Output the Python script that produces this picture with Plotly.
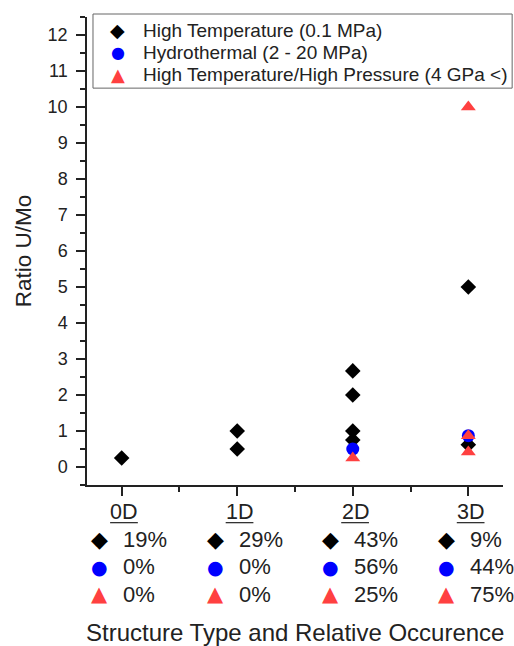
import plotly.graph_objects as go

categories = ["0D", "1D", "2D", "3D"]

ht_cat = ["0D", "1D", "1D", "2D", "2D", "2D", "2D", "3D", "3D"]
ht_val = [0.25, 1.0, 0.5, 2.67, 2.0, 1.0, 0.75, 5.0, 0.62]

hy_cat = ["2D", "3D"]
hy_val = [0.5, 0.87]

hthp_cat = ["2D", "3D", "3D", "3D"]
hthp_val = [0.25, 10.0, 0.87, 0.42]

pct_ht = ["19%", "29%", "43%", "9%"]
pct_hy = ["0%", "0%", "56%", "44%"]
pct_hthp = ["0%", "0%", "25%", "75%"]

names = ["High Temperature (0.1 MPa)", "Hydrothermal (2 - 20 MPa)",
         "High Temperature/High Pressure (4 GPa <)"]
colors = ["black", "#0000FF", "#FF4040"]
symbols = ["diamond", "circle", "triangle-up"]
glyphs = ["\u25C6", "\u25CF", "\u25B2"]
glyph_sizes = [22, 19, 21]

idx = {c: i for i, c in enumerate(categories)}
FONT = "Liberation Sans, Arial, sans-serif"
TXT = "#222"

fig = go.Figure()
for cats, vals, nm, col, sym, sz in [
    (ht_cat, ht_val, names[0], colors[0], symbols[0], 12),
    (hy_cat, hy_val, names[1], colors[1], symbols[1], 13),
    (hthp_cat, hthp_val, names[2], colors[2], symbols[2], 13),
]:
    fig.add_trace(go.Scatter(
        x=[idx[c] for c in cats], y=vals, mode="markers", name=nm,
        marker=dict(symbol=sym, color=col, size=sz, line=dict(width=0)),
        cliponaxis=False, showlegend=False,
    ))

annotations = []
shapes = []

# legend box
shapes.append(dict(type="rect", xref="paper", yref="paper",
                   x0=0.0144, x1=1.022, y0=0.848, y1=1.0064,
                   line=dict(color="#666", width=1), fillcolor="white", layer="below"))
leg_y = [0.9722, 0.9252, 0.8782]
for r in range(3):
    annotations.append(dict(x=0.0745, y=leg_y[r], xref="paper", yref="paper",
                            text=glyphs[r], showarrow=False, xanchor="center", yanchor="middle",
                            font=dict(size=glyph_sizes[r] - 3, color=colors[r], family="DejaVu Sans")))
    annotations.append(dict(x=0.129, y=leg_y[r], xref="paper", yref="paper",
                            text=names[r], showarrow=False, xanchor="left", yanchor="middle",
                            font=dict(size=19, color=TXT, family=FONT)))

# category labels with occurrence rows
row_y = [-0.1175, -0.175, -0.233]
for i, c in enumerate(categories):
    annotations.append(dict(x=i + 0.02, y=-0.0577, xref="x", yref="paper",
                            text=c, showarrow=False, xanchor="center", yanchor="middle",
                            font=dict(size=21.5, color=TXT, family=FONT)))
    shapes.append(dict(type="line", xref="x", yref="paper",
                       x0=i - 0.1, x1=i + 0.14, y0=-0.0805, y1=-0.0805,
                       line=dict(color=TXT, width=1.2)))
    for r, pcts in enumerate([pct_ht, pct_hy, pct_hthp]):
        annotations.append(dict(x=i - 0.19, y=row_y[r], xref="x", yref="paper",
                                text=glyphs[r], showarrow=False, xanchor="center", yanchor="middle",
                                font=dict(size=glyph_sizes[r], color=colors[r], family="DejaVu Sans")))
        annotations.append(dict(x=i - 0.005, y=row_y[r], xref="x", yref="paper",
                                text=pcts[i], showarrow=False, xanchor="left", yanchor="middle",
                                font=dict(size=22, color=TXT, family=FONT)))

annotations.append(dict(x=0.5, y=-0.316, xref="paper", yref="paper",
                        text="Structure Type and Relative Occurence", showarrow=False,
                        xanchor="center", yanchor="middle",
                        font=dict(size=24, color=TXT, family=FONT)))

fig.update_layout(
    width=514, height=646,
    margin=dict(l=87, r=11, t=17, b=161),
    paper_bgcolor="white", plot_bgcolor="white",
    font=dict(family=FONT, color=TXT),
    showlegend=False,
    annotations=annotations,
    shapes=shapes,
)
fig.update_xaxes(range=[-0.3, 3.3], tickvals=[0, 1, 2, 3], showticklabels=False,
                 ticks="outside", ticklen=9, tickwidth=1.5, tickcolor=TXT,
                 showline=True, linecolor=TXT, linewidth=1.5,
                 showgrid=False, zeroline=False,
                 minor=dict(tickvals=[0.5, 1.5, 2.5], ticks="outside", ticklen=5,
                            tickwidth=1.5, tickcolor=TXT))
fig.update_yaxes(range=[-0.5, 12.5], dtick=1, tick0=0,
                 ticks="outside", ticklen=9, tickwidth=1.5, tickcolor=TXT,
                 showline=True, linecolor=TXT, linewidth=1.5,
                 showgrid=False, zeroline=False, ticklabelstandoff=5,
                 tickfont=dict(size=18, family=FONT, color=TXT),
                 title=dict(text="Ratio U/Mo", font=dict(size=22.5, family=FONT, color=TXT),
                            standoff=10),
                 minor=dict(dtick=0.5, ticks="outside", ticklen=5, tickwidth=1.5,
                            tickcolor=TXT))

fig.write_html("out.html", config={"displayModeBar": False},
               post_script="document.body.style.margin='0';document.body.style.overflow='hidden';")
